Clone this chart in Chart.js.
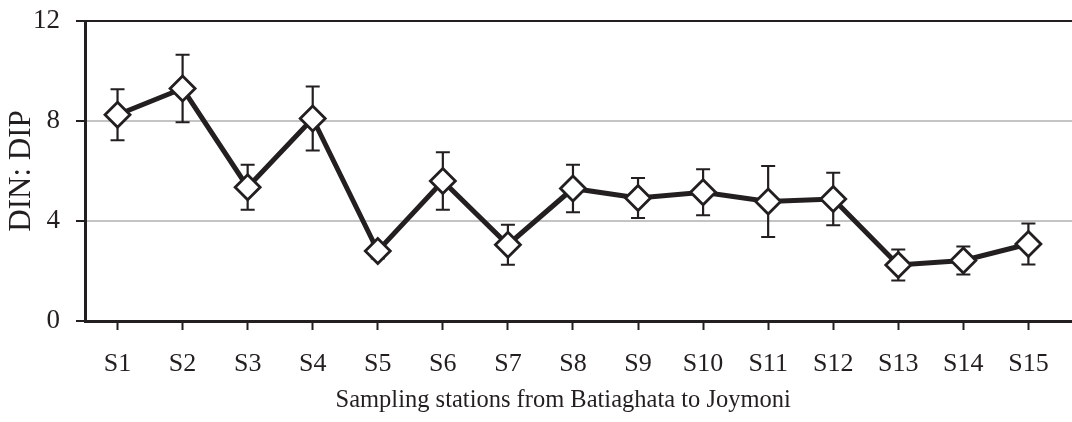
<!DOCTYPE html>
<html>
<head>
<meta charset="utf-8">
<script src="https://cdn.jsdelivr.net/npm/chart.js@4/dist/chart.umd.min.js"></script>
<style>
  html, body { margin: 0; padding: 0; background: #fff; overflow: hidden; }
  #wrap { width: 1072px; height: 422px; }
</style>
</head>
<body>
<div id="wrap"><canvas id="myChart"></canvas></div>
<script>
const stations = ['S1', 'S2', 'S3', 'S4', 'S5', 'S6', 'S7', 'S8', 'S9', 'S10', 'S11', 'S12', 'S13', 'S14', 'S15'];
const ratio = [8.25, 9.3, 5.35, 8.1, 2.8, 5.6, 3.05, 5.3, 4.92, 5.15, 4.78, 4.88, 2.24, 2.42, 3.08];
const ratioErr = [1.02, 1.35, 0.9, 1.28, 0.3, 1.15, 0.8, 0.95, 0.8, 0.92, 1.42, 1.05, 0.62, 0.56, 0.82];
const yTicks = [0, 4, 8, 12];

const ink = '#231f20';
const serif = "'Liberation Serif', 'Times New Roman', serif";

// error bars, drawn under the line and markers
const errorBars = {
    id: 'errorBars',
    beforeDatasetsDraw(chart) {
        const ctx = chart.ctx;
        const xs = chart.scales.x;
        const ys = chart.scales.y;
        ctx.save();
        ctx.strokeStyle = ink;
        ctx.lineWidth = 2.2;
        ratio.forEach((v, i) => {
            const x = xs.getPixelForValue(i + 1);
            const top = ys.getPixelForValue(v + ratioErr[i]);
            const bot = ys.getPixelForValue(v - ratioErr[i]);
            ctx.beginPath();
            ctx.moveTo(x, top);
            ctx.lineTo(x, bot);
            ctx.moveTo(x - 7, top);
            ctx.lineTo(x + 7, top);
            ctx.moveTo(x - 7, bot);
            ctx.lineTo(x + 7, bot);
            ctx.stroke();
        });
        ctx.restore();
    }
};

// drop the automatic label padding so layout.padding decides the plot box
function noPad(axis) {
    axis.paddingTop = 0;
    axis.paddingBottom = 0;
    axis.paddingLeft = 0;
    axis.paddingRight = 0;
}

let ctx = document.getElementById('myChart').getContext('2d');

new Chart(ctx, {
    type: 'line',
    data: {
        datasets: [{
            data: ratio.map((v, i) => ({ x: i + 1, y: v })),
            borderColor: ink,
            borderWidth: 5,
            pointStyle: 'rectRot',
            pointRadius: 12.5,
            pointBorderWidth: 2.8,
            pointBackgroundColor: '#fff',
            pointBorderColor: ink,
            tension: 0
        }]
    },
    options: {
        responsive: true,
        maintainAspectRatio: false,
        animation: false,
        layout: { autoPadding: false, padding: { top: 21, right: 0, left: 0, bottom: 0 } },
        plugins: {
            legend: { display: false },
            tooltip: { enabled: false }
        },
        scales: {
            x: {
                type: 'linear',
                min: 0.5,
                max: 15.67,
                afterBuildTicks: axis => {
                    axis.ticks = stations.map((s, i) => ({ value: i + 1 }));
                },
                afterFit: axis => { axis.height = 101; noPad(axis); },
                grid: {
                    drawOnChartArea: false,
                    drawTicks: true,
                    tickLength: 9,
                    tickColor: ink,
                    tickWidth: 2
                },
                border: { display: true, color: ink, width: 3 },
                ticks: {
                    padding: 19,
                    color: ink,
                    font: { family: serif, size: 26 },
                    maxRotation: 0,
                    autoSkip: false,
                    callback: v => stations[v - 1]
                },
                title: {
                    display: true,
                    // trailing spaces nudge the centred title a little to the left
                    text: 'Sampling stations from Batiaghata to Joymoni\u00a0\u00a0\u00a0\u00a0\u00a0',
                    color: ink,
                    font: { family: serif, size: 24.5 },
                    padding: { top: 0, bottom: 7 }
                }
            },
            y: {
                min: 0,
                max: 12,
                afterBuildTicks: axis => {
                    axis.ticks = yTicks.map(v => ({ value: v }));
                },
                afterFit: axis => { axis.width = 85; noPad(axis); },
                grid: {
                    color: c => c.tick && c.tick.value === 12 ? ink : (c.tick && c.tick.value === 0 ? 'rgba(0,0,0,0)' : '#c4c4c4'),
                    lineWidth: 2,
                    tickLength: 9,
                    tickColor: ink,
                    tickWidth: 2
                },
                border: { display: true, color: ink, width: 3 },
                ticks: {
                    padding: 16,
                    color: ink,
                    font: { family: serif, size: 27 }
                },
                title: {
                    display: true,
                    text: 'DIN: DIP',
                    color: ink,
                    font: { family: serif, size: 31 },
                    padding: { top: 3, bottom: 0 }
                }
            }
        }
    },
    plugins: [errorBars]
});
</script>
</body>
</html>
